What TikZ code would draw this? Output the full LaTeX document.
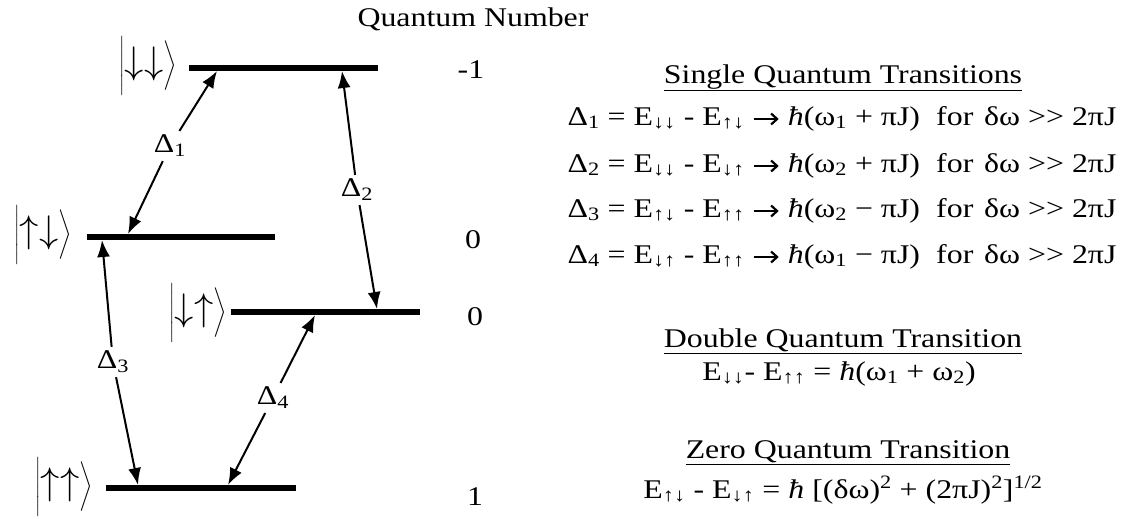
\documentclass[tikz,border=0pt]{standalone}
\usepackage{graphicx}
\usepackage{fontspec}
\setmainfont{Liberation Serif}[FakeStretch=1.18]
\usetikzlibrary{arrows.meta}
\newcommand\tarr{\tikz[baseline=0pt]\draw[line width=2.2pt,-{Straight Barb[length=6pt,width=11pt,line width=2.2pt]}] (0pt,6pt) -- (25pt,6pt);}
\newcommand\ulin[1]{\underline{#1}}
\newcommand\ketx[1]{\scalebox{1.65}{$\left|\vrule height 15pt depth 13pt width 0pt\scalebox{1.35}{$#1$}\right\rangle$}}
\begin{document}
\begin{tikzpicture}[x=1pt,y=-1pt,
  level/.style={line width=5.5pt},
  trans/.style={line width=2pt,-{Latex[length=17pt,width=13pt]}},
  lbl/.style={font=\fontsize{27}{30}\selectfont, inner sep=4pt},
  ket/.style={font=\fontsize{17.28}{20}\selectfont, inner sep=0pt},
  qn/.style={font=\fontsize{27}{30}\selectfont, inner sep=0pt, anchor=base},
  txt/.style={font=\fontsize{27}{30}\selectfont, inner sep=0pt, anchor=base},
]
\useasboundingbox (0,0) rectangle (1129,519);
% energy levels
\draw[level] (189,68) coordinate (L1a) -- (378,68) coordinate (L1b);
\draw[level] (87,237) coordinate (L2a) -- (275,237) coordinate (L2b);
\draw[level] (231,312) coordinate (L3a) -- (420,312) coordinate (L3b);
\draw[level] (106,488) coordinate (L4a) -- (296,488) coordinate (L4b);
% kets
\node[ket] (k1) at (148,66) {\ketx{\downarrow\downarrow}};
\node[ket] (k2) at (43,235) {\ketx{\uparrow\downarrow}};
\node[ket] (k3) at (198,313) {\ketx{\downarrow\uparrow}};
\node[ket] (k4) at (64,487) {\ketx{\uparrow\uparrow}};
% quantum numbers
\node[qn] (qt) at (473,27) {Quantum Number};
\node[qn] (q1) at (471,78) {-1};
\node[qn] (q2) at (473,248) {0};
\node[qn] (q3) at (475,325) {0};
\node[qn] (q4) at (475,505) {1};
% transition labels
\node[lbl] (d1) at (170,146) {Δ\textsubscript{1}};
\node[lbl] (d2) at (357,190) {Δ\textsubscript{2}};
\node[lbl] (d3) at (113,362) {Δ\textsubscript{3}};
\node[lbl] (d4) at (273,398) {Δ\textsubscript{4}};
% tip points on the levels
\coordinate (t1u) at (217,71);
\coordinate (t1d) at (128,234);
\coordinate (t2u) at (342,71);
\coordinate (t2d) at (377,309);
\coordinate (t3u) at (102,240);
\coordinate (t3d) at (138,485);
\coordinate (t4u) at (315,315);
\coordinate (t4d) at (228,485);
% transitions
\draw[trans] (d1) -- (t1u);
\draw[trans] (d1) -- (t1d);
\draw[trans] (d2) -- (t2u);
\draw[trans] (d2) -- (t2d);
\draw[trans] (d3) -- (t3u);
\draw[trans] (d3) -- (t3d);
\draw[trans] (d4) -- (t4u);
\draw[trans] (d4) -- (t4d);
% right-hand text
\node[txt] (s0) at (843,83) {\ulin{Single Quantum Transitions}};
\node[txt] (s1) at (842,125) {Δ\textsubscript{1} = E\textsubscript{↓↓} - E\textsubscript{↑↓} \tarr\ \textit{ħ}(ω\textsubscript{1} + πJ)\hspace{0.6em}for\hspace{0.4em}δω >{}> 2πJ};
\node[txt] (s2) at (842,172) {Δ\textsubscript{2} = E\textsubscript{↓↓} - E\textsubscript{↓↑} \tarr\ \textit{ħ}(ω\textsubscript{2} + πJ)\hspace{0.6em}for\hspace{0.4em}δω >{}> 2πJ};
\node[txt] (s3) at (842,217) {Δ\textsubscript{3} = E\textsubscript{↑↓} - E\textsubscript{↑↑} \tarr\ \textit{ħ}(ω\textsubscript{2} − πJ)\hspace{0.6em}for\hspace{0.4em}δω >{}> 2πJ};
\node[txt] (s4) at (842,263) {Δ\textsubscript{4} = E\textsubscript{↓↑} - E\textsubscript{↑↑} \tarr\ \textit{ħ}(ω\textsubscript{1} − πJ)\hspace{0.6em}for\hspace{0.4em}δω >{}> 2πJ};
\node[txt] (dq0) at (843,347) {\ulin{Double Quantum Transition}};
\node[txt] (dq1) at (839,380) {E\textsubscript{↓↓}- E\textsubscript{↑↑} = \textit{ħ}(ω\textsubscript{1} + ω\textsubscript{2})};
\node[txt] (zq0) at (848,458) {\ulin{Zero Quantum Transition}};
\node[txt] (zq1) at (843,498) {E\textsubscript{↑↓} - E\textsubscript{↓↑} = \textit{ħ} [(δω)\textsuperscript{2} + (2πJ)\textsuperscript{2}]\textsuperscript{1/2}};
\end{tikzpicture}
\end{document}
